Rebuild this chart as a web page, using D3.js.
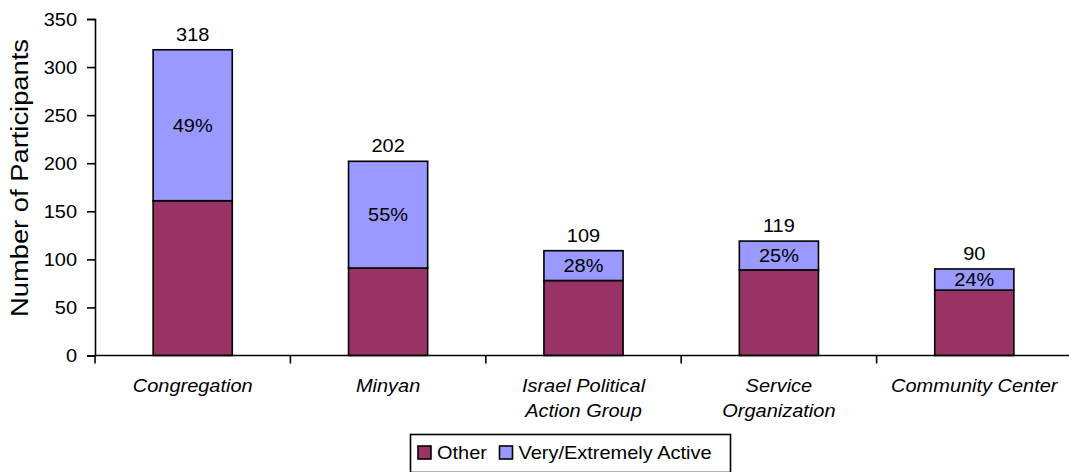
<!DOCTYPE html>
<html>
<head>
<meta charset="utf-8">
<script src="https://cdn.jsdelivr.net/npm/d3@7"></script>
<style>
  body { margin: 0; background: #fff; }
  svg { font-family: "Liberation Sans", Arial, sans-serif; }
</style>
</head>
<body>
<div id="chart"></div>
<script>
// Chart data
const categories = ["Congregation", "Minyan", "Israel Political Action Group", "Service Organization", "Community Center"];
const categoryLines = [["Congregation"], ["Minyan"], ["Israel Political", "Action Group"], ["Service", "Organization"], ["Community Center"]];
const otherValues = [161, 91, 78, 89, 68];
const activeValues = [157, 111, 31, 30, 22];
const totalLabels = ["318", "202", "109", "119", "90"];
const percentLabels = ["49%", "55%", "28%", "25%", "24%"];
const seriesNames = ["Other", "Very/Extremely Active"];
const yTicks = [0, 50, 100, 150, 200, 250, 300, 350];

const colors = { Other: "#993366", "Very/Extremely Active": "#9999FF" };

const W = 1069, H = 472;
const plotLeft = 95, plotTop = 19, plotRight = 1072, plotBottom = 355.5;
const FS = 18, SX = 1.11; // text is a bit wider than tall in the original

const svg = d3.select("#chart").append("svg")
  .attr("width", W).attr("height", H);

// put a stretched text at (px, py)
function label(g, px, py, txt, anchor) {
  return g.append("text")
    .attr("transform", `translate(${px},${py}) scale(${SX},1)`)
    .attr("text-anchor", anchor || "middle")
    .attr("font-size", FS)
    .attr("fill", "#000")
    .text(txt);
}

const x = d3.scaleBand().domain(categories).range([plotLeft, plotRight]).paddingInner(0.595).paddingOuter(0.2975);
const y = d3.scaleLinear().domain([0, 350]).range([plotBottom, plotTop]);

// stacked data
const rows = categories.map((c, i) => ({ cat: c, Other: otherValues[i], "Very/Extremely Active": activeValues[i] }));
const stacked = d3.stack().keys(seriesNames)(rows);

// bars
svg.append("g").selectAll("g")
  .data(stacked)
  .join("g")
  .attr("fill", d => colors[d.key])
  .selectAll("rect")
  .data(d => d)
  .join("rect")
  .attr("x", d => x(d.data.cat))
  .attr("y", d => y(d[1]))
  .attr("width", x.bandwidth())
  .attr("height", d => y(d[0]) - y(d[1]))
  .attr("stroke", "#000")
  .attr("stroke-width", 1.6);

// y axis
const yAxis = svg.append("g")
  .attr("transform", `translate(${plotLeft},0)`)
  .call(d3.axisLeft(y).tickValues(yTicks).tickSize(8).tickFormat(""));
yAxis.select(".domain").attr("stroke", "#000").attr("stroke-width", 1.6);
yAxis.selectAll(".tick line").attr("stroke", "#000").attr("stroke-width", 1.6);
const yLabels = svg.append("g");
yTicks.forEach(t => label(yLabels, plotLeft - 18, y(t) + 6.5, String(t), "end"));

// x axis line + ticks between categories
svg.append("line")
  .attr("x1", plotLeft).attr("x2", plotRight)
  .attr("y1", y(0)).attr("y2", y(0))
  .attr("stroke", "#000").attr("stroke-width", 1.6);
const step = x.step();
svg.append("g").selectAll("line")
  .data(d3.range(categories.length + 1))
  .join("line")
  .attr("x1", i => plotLeft + i * step).attr("x2", i => plotLeft + i * step)
  .attr("y1", y(0)).attr("y2", y(0) + 8)
  .attr("stroke", "#000").attr("stroke-width", 1.6);

// category labels
const catG = svg.append("g").attr("font-style", "italic");
categories.forEach((c, i) => {
  categoryLines[i].forEach((line, j) => {
    label(catG, x(c) + x.bandwidth() / 2, 392 + j * 25, line);
  });
});

// total labels
const totG = svg.append("g");
categories.forEach((c, i) => {
  label(totG, x(c) + x.bandwidth() / 2, y(otherValues[i] + activeValues[i]) - 9, totalLabels[i]);
});

// percent labels in the active segment
const pctG = svg.append("g");
stacked[1].forEach((d, i) => {
  label(pctG, x(d.data.cat) + x.bandwidth() / 2, (y(d[0]) + y(d[1])) / 2 + 6.5, percentLabels[i]);
});

// y axis title
svg.append("text")
  .attr("transform", `translate(28,178) rotate(-90) scale(1.14,1)`)
  .attr("text-anchor", "middle")
  .attr("font-size", 24)
  .text("Number of Participants");

// legend
const legend = svg.append("g");
legend.append("rect")
  .attr("x", 410.5).attr("y", 434.5).attr("width", 320).attr("height", 38)
  .attr("fill", "#fff").attr("stroke", "#000").attr("stroke-width", 1.6);
const legendX = [418, 499.5];
seriesNames.forEach((name, i) => {
  legend.append("rect")
    .attr("x", legendX[i]).attr("y", 446).attr("width", 13).attr("height", 13)
    .attr("fill", colors[name]).attr("stroke", "#000").attr("stroke-width", 1.6);
  label(legend, legendX[i] + 19, 459, name, "start");
});
</script>
</body>
</html>
